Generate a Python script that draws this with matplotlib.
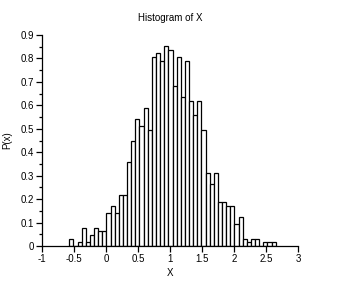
import numpy as np
import matplotlib
matplotlib.use("Agg")
import matplotlib.pyplot as plt
from matplotlib.ticker import MultipleLocator

# counts per class (1000 samples, 50 classes)
counts = [2, 0, 1, 5, 1, 3, 5, 4, 4, 9,
          11, 9, 14, 14, 23, 29, 35, 33, 38, 32,
          52, 53, 51, 55, 54, 44, 52, 41, 51, 40,
          36, 40, 32, 20, 17, 20, 12, 12, 11, 11,
          6, 8, 2, 1, 2, 2, 0, 1, 1, 1]
x_min = -0.578
x_max = 2.647
n_samples = 1000

x_ticks = [-1, -0.5, 0, 0.5, 1, 1.5, 2, 2.5, 3]
x_tick_labels = ["-1", "-0.5", "0", "0.5", "1", "1.5", "2", "2.5", "3"]
y_ticks = [0, 0.1, 0.2, 0.3, 0.4, 0.5, 0.6, 0.7, 0.8, 0.9]
y_tick_labels = ["0", "0.1", "0.2", "0.3", "0.4", "0.5", "0.6", "0.7", "0.8", "0.9"]

plt.rcParams["font.family"] = ["Liberation Sans", "DejaVu Sans"]

edges = np.linspace(x_min, x_max, len(counts) + 1)
width = edges[1] - edges[0]
density = np.array(counts) / (n_samples * width)

fig = plt.figure(figsize=(3.41, 2.82), dpi=100)
ax = fig.add_axes([42.3 / 341, 1 - 246 / 282, 256 / 341, 211 / 282])

ax.bar(edges[:-1], density, width=width, align="edge",
       color="white", edgecolor="black", linewidth=0.9)

ax.set_xlim(-1, 3)
ax.set_ylim(0, 0.9)
ax.spines["top"].set_visible(False)
ax.spines["right"].set_visible(False)
for s in ("left", "bottom"):
    ax.spines[s].set_linewidth(0.9)

ax.set_xticks(x_ticks)
ax.set_xticklabels(x_tick_labels)
ax.set_yticks(y_ticks)
ax.set_yticklabels(y_tick_labels)
ax.yaxis.set_minor_locator(MultipleLocator(0.05))
ax.tick_params(which="major", length=4, width=0.9, labelsize=7, pad=2)
ax.tick_params(which="minor", length=2, width=0.9)

ax.set_xlabel("X", fontsize=7, labelpad=3)
ax.set_ylabel("P(x)", fontsize=7, labelpad=6)
ax.set_title("Histogram of X", fontsize=7, pad=10)

fig.savefig("out.png", dpi=100)
